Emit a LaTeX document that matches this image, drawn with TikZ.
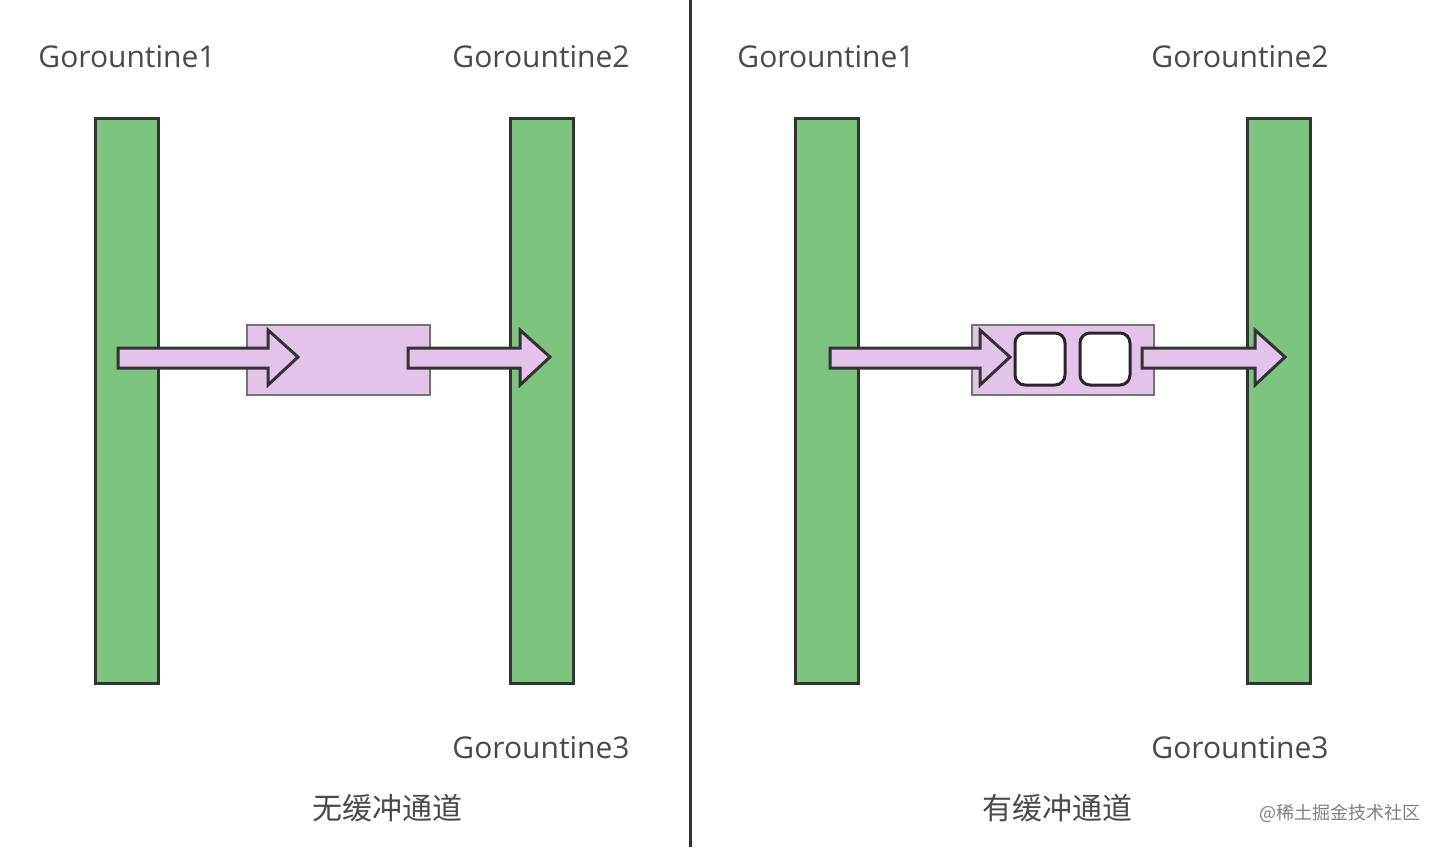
\documentclass[tikz,border=0pt]{standalone}
\usepackage{fontspec}
\setmainfont{Open Sans}
\newfontfamily\cjk{Noto Sans CJK SC}
\definecolor{gbar}{HTML}{7DC47E}
\definecolor{lav}{HTML}{E4C3EA}
\definecolor{txt}{HTML}{4A4A4A}
\tikzset{
 bar/.style={draw=black!80,fill=gbar,line width=1.5pt},
 chan/.style={draw=black!55,fill=lav,line width=0.8pt},
 arr/.style={draw=black!80,fill=lav,line width=1.5pt,line join=miter},
 slot/.style={draw=black!85,fill=white,line width=1.5pt,rounded corners=5pt},
 lbl/.style={text=txt,font=\fontsize{15}{18}\selectfont},
 captxt/.style={text=txt,font=\cjk\fontsize{15}{18}\selectfont}
}
\begin{document}
\begin{tikzpicture}[x=0.5pt,y=-0.5pt]
\useasboundingbox (0,0) rectangle (1445,847);
\fill[white] (0,0) rectangle (1445,847);
\draw[line width=1.5pt,black!80] (690,0) -- (690,847);
% left
\node[lbl] (l1) at (127,57) {Gorountine1};
\node[lbl] (l2) at (541,57) {Gorountine2};
\node[lbl] (l3) at (541,748) {Gorountine3};
\draw[bar] (95,118) rectangle (158,683);
\draw[bar] (510,118) rectangle (573,683);
\draw[chan] (247,325) rectangle (430,395);
\draw[arr] (118,348) -- (268,348) -- (268,330) -- (298,357) -- (268,385) -- (268,368) -- (118,368) -- cycle;
\draw[arr] (408,348) -- (520,348) -- (520,330) -- (550,357) -- (520,385) -- (520,368) -- (408,368) -- cycle;
\node[captxt] (c1) at (387,808) {无缓冲通道};
% right
\node[lbl] (r1) at (826,57) {Gorountine1};
\node[lbl] (r2) at (1240,57) {Gorountine2};
\node[lbl] (r3) at (1240,748) {Gorountine3};
\draw[bar] (795,118) rectangle (858,683);
\draw[bar] (1247,118) rectangle (1310,683);
\draw[chan] (972,325) rectangle (1154,395);
\draw[arr] (830,348) -- (980,348) -- (980,330) -- (1010,357) -- (980,385) -- (980,368) -- (830,368) -- cycle;
\draw[slot] (1015,333) rectangle (1065,385);
\draw[slot] (1080,333) rectangle (1130,385);
\draw[arr] (1142,348) -- (1255,348) -- (1255,330) -- (1285,357) -- (1255,385) -- (1255,368) -- (1142,368) -- cycle;
\node[captxt] (c2) at (1057,808) {有缓冲通道};
\node[text=black!50,font=\cjk\fontsize{9}{10}\selectfont] (wm) at (1340,813) {@稀土掘金技术社区};
\end{tikzpicture}
\end{document}
